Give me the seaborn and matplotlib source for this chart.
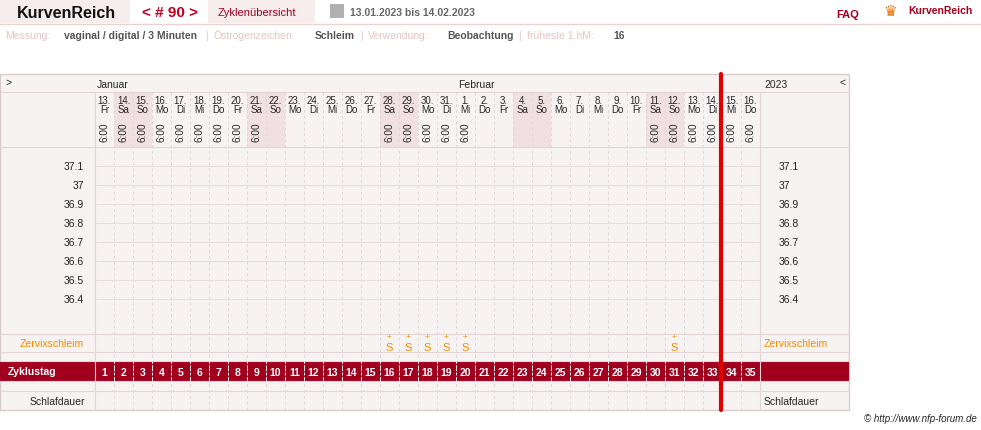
import matplotlib
matplotlib.use("Agg")
import matplotlib.pyplot as plt
import seaborn as sns
from matplotlib.patches import Rectangle

sns.set_style("white")
plt.rcParams['font.family'] = ['Liberation Sans', 'DejaVu Sans']

# ---- data ----
day_nums = [13,14,15,16,17,18,19,20,21,22,23,24,25,26,27,28,29,30,31,1,2,3,4,5,6,7,8,9,10,11,12,13,14,15,16]
weekdays = ["Fr","Sa","So","Mo","Di","Mi","Do","Fr","Sa","So","Mo","Di","Mi","Do","Fr","Sa","So","Mo","Di","Mi","Do","Fr","Sa","So","Mo","Di","Mi","Do","Fr","Sa","So","Mo","Di","Mi","Do"]
cycle_days = list(range(1, 36))
time_days = [1,2,3,4,5,6,7,8,9,16,17,18,19,20,30,31,32,33,34,35]
mucus_days = [16,17,18,19,20,31]
temp_ticks = [37.1,37.0,36.9,36.8,36.7,36.6,36.5,36.4]
temp_labels = ["37.1","37","36.9","36.8","36.7","36.6","36.5","36.4"]
current_day = 33

W, H = 981, 431
fig = plt.figure(figsize=(W/100, H/100), dpi=100)
ax = fig.add_axes([0, 0, 1, 1])
ax.set_xlim(0, W); ax.set_ylim(H, 0); ax.axis("off")

X0, CW = 95, 19
def cx(d): return X0 + (d-1)*CW
def ty(t): return 167 + (37.1 - t)*190

dark = "#a0001e"; light = "#e9c3c3"; grid = "#e0d6d6"; bg = "#f8f3f3"
# header
ax.add_patch(Rectangle((0,0),130,24,color="#f7eded",lw=0))
ax.text(17,13,"KurvenReich",fontsize=11.5,fontweight="bold",va="center",color="#111")
ax.text(142,13,"< # 90 >",fontsize=11,fontweight="bold",va="center",color="#c00020")
ax.add_patch(Rectangle((208,0),107,24,color="#f7eded",lw=0))
ax.text(218,13,"Zyklenübersicht",fontsize=8,va="center",color=dark)
ax.add_patch(Rectangle((330,5),14,14,color="#b0b0b0",lw=0))
ax.text(350,13,"13.01.2023 bis 14.02.2023",fontsize=7.5,fontweight="bold",va="center",color="#666")
ax.text(836,15,"FAQ",fontsize=8,fontweight="bold",va="center",color=dark)
ax.text(883,11,"♛",fontsize=11,va="center",color="#e07000",family=["DejaVu Sans"])
ax.text(908,11,"KurvenReich",fontsize=7.5,fontweight="bold",va="center",color=dark)
ax.plot([0,981],[24.5,24.5],color="#ecd3d3",lw=1)
row2 = [("Messung:",light,False),("vaginal / digital / 3 Minuten","#555",True),("|",light,False),
        ("Östrogenzeichen:",light,False),("Schleim","#555",True),("|",light,False),
        ("Verwendung:",light,False),("Beobachtung","#555",True),("|",light,False),
        ("früheste 1.hM:",light,False),("16","#555",True)]
xs = [5,64,205,213,315,360,368,447,518,527,613]
for (t,c,b),x in zip(row2,xs):
    ax.text(x,36,t,fontsize=7.5,color=c,fontweight="bold" if b else "normal",va="center")

# table background
ax.add_patch(Rectangle((0,75),849,336,facecolor=bg,edgecolor="#d8cccc",lw=1))
for d in [2,3,9,10,16,17,23,24,30,31]:
    ax.add_patch(Rectangle((cx(d),93),CW,55,color="#f1e0e2",lw=0))
for y in [93,148,335,353,362,382,392]:
    ax.plot([0,849],[y,y],color="#e2d6d6",lw=0.8)
for x in [95,760]:
    ax.plot([x,x],[93,411],color="#e2d6d6",lw=0.8)
for d in range(2,36):
    ax.plot([cx(d),cx(d)],[93,411],color=grid,lw=0.7,ls=(0,(3,3)))
for t in temp_ticks:
    ax.plot([95,760],[ty(t),ty(t)],color="#e6dddd",lw=0.7)
for t,l in zip(temp_ticks,temp_labels):
    ax.text(84,ty(t),l,fontsize=7.5,ha="right",va="center",color="#222")
    ax.text(779,ty(t),l,fontsize=7.5,ha="left",va="center",color="#222")

ax.text(6,83,">",fontsize=7.5,va="center")
ax.text(97,85,"Januar",fontsize=7.5,va="center")
ax.text(458,85,"Februar",fontsize=7.5,va="center")
ax.text(764,85,"2023",fontsize=7.5,va="center")
ax.text(840,83,"<",fontsize=7.5,va="center")
for i,(n,w) in enumerate(zip(day_nums,weekdays)):
    x = cx(i+1)+CW/2
    ax.text(x,101,f"{n}.",fontsize=7,ha="center",va="center")
    ax.text(x,110,w,fontsize=7,ha="center",va="center")
for d in time_days:
    ax.text(cx(d)+CW/2,132,"6:00",fontsize=7.2,rotation=90,ha="center",va="center")

ax.text(20,344,"Zervixschleim",fontsize=7.5,color="#f08c00",va="center")
ax.text(764,344,"Zervixschleim",fontsize=7.5,color="#f08c00",va="center")
for d in mucus_days:
    ax.text(cx(d)+CW/2,338,"+",fontsize=6,color="#f08c00",ha="center",va="center")
    ax.text(cx(d)+CW/2,348.5,"S",fontsize=8,color="#f08c00",ha="center",va="center")

ax.add_patch(Rectangle((0,362),849,20,color=dark,lw=0))
ax.text(8,372,"Zyklustag",fontsize=7.5,fontweight="bold",color="white",va="center")
for d in cycle_days:
    ax.text(cx(d)+CW/2,373,str(d),fontsize=7.5,fontweight="bold",color="white",ha="center",va="center")
    if d > 1:
        ax.plot([cx(d),cx(d)],[362,382],color="white",lw=0.7,ls=(0,(2,2)))
ax.text(30,402,"Schlafdauer",fontsize=7.5,va="center")
ax.text(764,402,"Schlafdauer",fontsize=7.5,va="center")

ax.plot([cx(current_day+1)-1]*2,[75,411],color="#e00000",lw=3)
ax.text(977,419,"© http://www.nfp-forum.de",fontsize=7,style="italic",ha="right",va="center")
fig.savefig("out.png",dpi=100)
